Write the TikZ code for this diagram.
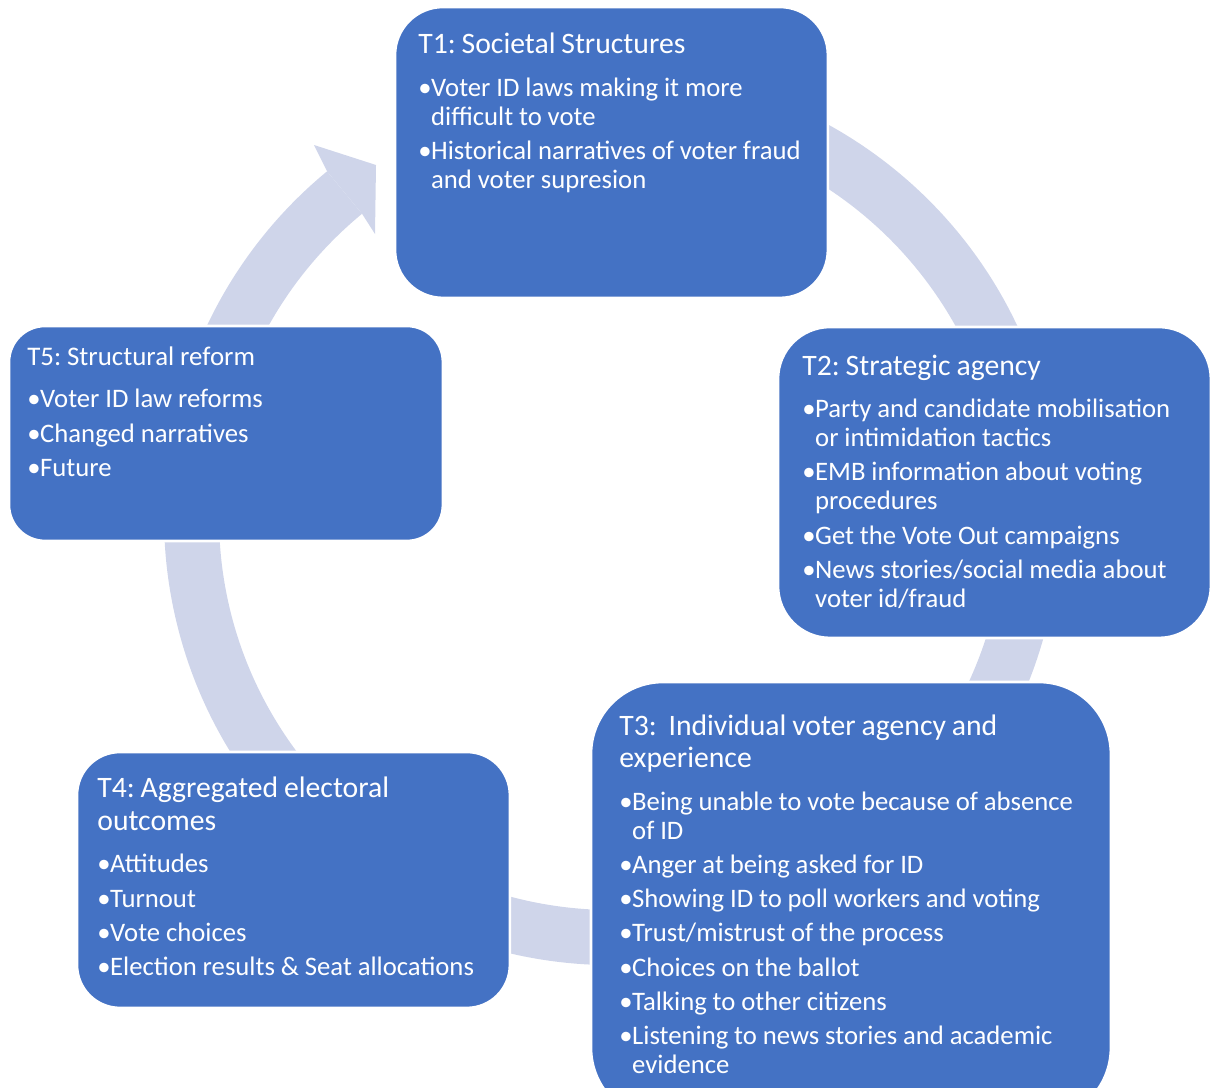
\documentclass[tikz,border=0pt]{standalone}
\usepackage{fontspec}
\setmainfont{Carlito}
\usetikzlibrary{positioning}
\usetikzlibrary{calc}
\definecolor{themeblue}{HTML}{4472C4}
\definecolor{cycleblue}{HTML}{CFD5EA}
\frenchspacing
\newcommand{\themetitle}[2][16.9pt]{\fontsize{#1}{18.4pt}\selectfont #2\par\vspace{4.9pt}\fontsize{15.2pt}{16.4pt}\selectfont}
\newcommand{\themeitem}[1]{\par\vspace{3.1pt}\hangindent=7.3pt\hangafter=1\noindent\makebox[7.3pt][l]{\textbullet}#1}

\begin{document}
\begin{tikzpicture}[x=0.02cm, y=0.02cm,
	themebox/.style={draw=white, line width=1.5pt, fill=themeblue, rounded corners=#1, anchor=north west, inner sep=0pt, outer sep=0pt},
	themetext/.style={text=white, anchor=base west, inner sep=0pt, text width=#1, align=left}]
	\useasboundingbox (0,0) rectangle (1210,-1088);
	% the cycle ring and its arrow head
	\coordinate (ringc) at (612,-517);
	\fill[cycleblue] ($(ringc)+(100:448)$) arc[start angle=100, end angle=-230.5, radius=448] -- ($(ringc)+(-230.5:393)$) arc[start angle=-230.5, end angle=100, radius=393] -- cycle;
	\coordinate (headout) at ($(ringc)+(129.5:448)$); \coordinate (headin) at ($(ringc)+(129.5:393)$);
	\coordinate (barbout) at (314,-145); \coordinate (headtip) at (376,-165); \coordinate (barbin) at (375,-234);
	\fill[cycleblue] (headout) -- (barbout) -- (headtip) -- (barbin) -- (headin) -- cycle;
	% theme boxes
	\node at (395,-7) (t1) [themebox=0.96cm, minimum width=8.66cm, minimum height=5.82cm] {};
	\node at (778,-327) (t2) [themebox=1.04cm, minimum width=8.66cm, minimum height=6.22cm] {};
	\node at (591,-682) (t3) [themebox=1.44cm, minimum width=10.4cm, minimum height=8.76cm] {};
	\node at (77,-752) (t4) [themebox=0.86cm, minimum width=8.66cm, minimum height=5.12cm] {};
	\node at (9,-326) (t5) [themebox=0.72cm, minimum width=8.68cm, minimum height=4.3cm] {};
	% texts
	\node at ([shift={(23,-46.5)}]t1.north west) (t1text) [themetext=8cm] {\themetitle{T1: Societal Structures}%
		\themeitem{Voter ID laws making it more\newline difficult to vote}%
		\themeitem{Historical narratives of voter fraud\newline and voter supresion}\par};
	\node at ([shift={(24,-48)}]t2.north west) (t2text) [themetext=8cm] {\themetitle{T2: Strategic agency}%
		\themeitem{Party and candidate mobilisation\newline or intimidation tactics}%
		\themeitem{EMB information about voting\newline procedures}%
		\themeitem{Get the Vote Out campaigns}%
		\themeitem{News stories/social media about\newline voter id/fraud}\par};
	\node at ([shift={(28,-53)}]t3.north west) (t3text) [themetext=9.6cm] {\themetitle{T3:~~Individual voter agency and\newline experience}%
		\themeitem{Being unable to vote because of absence\newline of ID}%
		\themeitem{Anger at being asked for ID}%
		\themeitem{Showing ID to poll workers and voting}%
		\themeitem{Trust/mistrust of the process}%
		\themeitem{Choices on the ballot}%
		\themeitem{Talking to other citizens}%
		\themeitem{Listening to news stories and academic\newline evidence}\par};
	\node at ([shift={(20,-45.7)}]t4.north west) (t4text) [themetext=8cm] {\themetitle{T4: Aggregated electoral\newline outcomes}%
		\themeitem{Attitudes}%
		\themeitem{Turnout}%
		\themeitem{Vote choices}%
		\themeitem{Election results \& Seat allocations}\par};
	\node at ([shift={(18,-39)}]t5.north west) (t5text) [themetext=8cm] {\themetitle[15.3pt]{T5: Structural reform}%
		\themeitem{Voter ID law reforms}%
		\themeitem{Changed narratives}%
		\themeitem{Future}\par};
\end{tikzpicture}
\end{document}
